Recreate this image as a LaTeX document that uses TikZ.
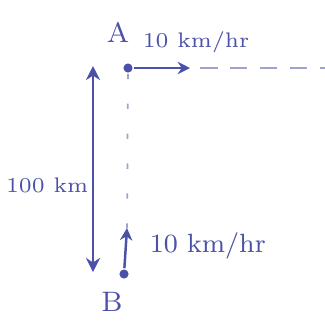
\documentclass[tikz,border=0pt]{standalone}
\usepackage{xcolor}
\usepackage{tikz}
\usetikzlibrary{positioning,arrows.meta}
\definecolor{ink}{HTML}{4B50A8}
\definecolor{faint}{HTML}{9FA3CF}

\begin{document}
\begin{tikzpicture}[x=0.01cm, y=-0.01cm, ink, line width=0.7pt,
  dot/.style={circle, fill=ink, inner sep=0pt, minimum size=2.6pt},
  lbl/.style={inner sep=1pt, font=\fontsize{6}{7}\selectfont},
  big/.style={inner sep=1pt, font=\fontsize{8}{9}\selectfont},
  speed/.style={-{Stealth[length=3.5pt, width=3.5pt]}},
  track/.style={faint, line width=0.5pt, dash pattern=on 5pt off 3.5pt},
  drop/.style={faint, line width=0.5pt, dash pattern=on 1.5pt off 7pt}]
  \useasboundingbox (0,0) rectangle (325,320);

  % Points A and B
  \node[dot] (A) at (128, 68) {};
  \node[dot] (B) at (124, 274) {};
  \node[big] (Alab) at (118, 32) {A};
  \node[big] (Blab) at (112, 302) {B};

  % A moves east
  \coordinate (Ahead) at (190, 68);
  \coordinate (Atrack) at (200, 68);
  \coordinate (Aend) at (325, 68);
  \draw[speed] (A) -- (Ahead);
  \draw[track] (Atrack) -- (Aend);
  \node[lbl, anchor=west] (vA) at (138, 42) {10 km/hr};

  % B moves north
  \coordinate (Bhead) at (127, 228);
  \draw[speed] (B) -- (Bhead);
  \draw[drop] (A) -- (Bhead);
  \node[lbl, anchor=west, font=\fontsize{7.5}{8}\selectfont] (vB) at (145, 246) {10 km/hr};

  % Separation
  \coordinate (top) at (93, 66);
  \coordinate (bot) at (93, 272);
  \draw[{Stealth[length=4pt, width=4pt]}-{Stealth[length=4pt, width=4pt]}] (top) -- (bot);
  \node[lbl, anchor=east] (dist) at (top |- 0, 185) {100 km};
\end{tikzpicture}
\end{document}
